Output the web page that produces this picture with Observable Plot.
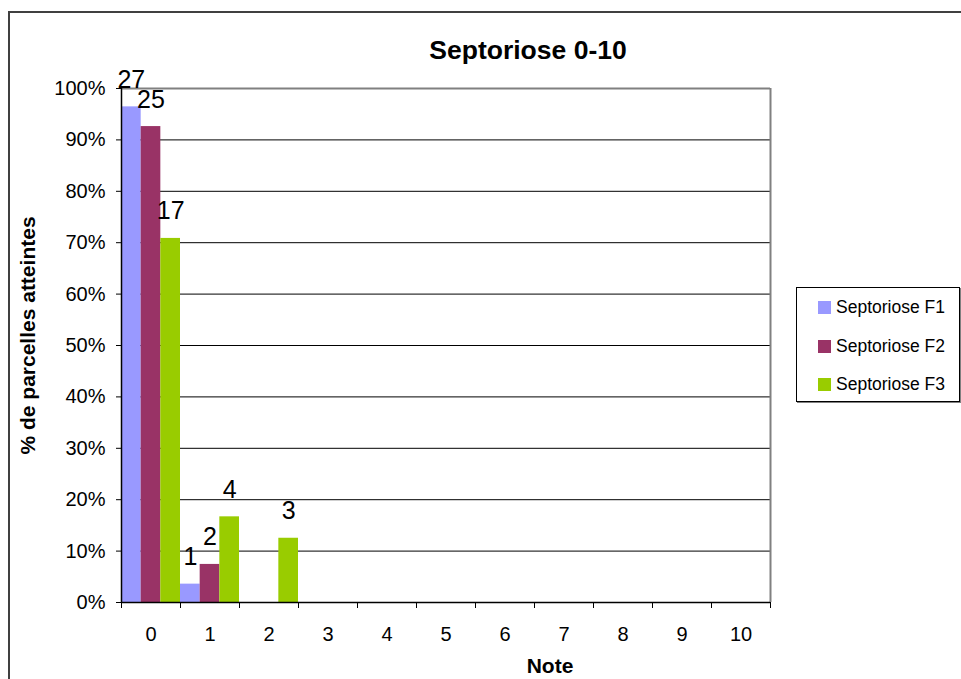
<!DOCTYPE html>
<html>
<head>
<meta charset="utf-8">
<script src="https://cdn.jsdelivr.net/npm/d3@7"></script>
<script src="https://cdn.jsdelivr.net/npm/@observablehq/plot@0.6"></script>
<style>
  html, body { margin: 0; padding: 0; background: #fff; }
  #wrap { position: relative; width: 961px; height: 679px; overflow: hidden; background: #fff; font-family: "Liberation Sans", Arial, sans-serif; }
  #border { position: absolute; left: 8px; top: 11px; width: 1100px; height: 1100px; border: 2px solid #404040; box-sizing: border-box; }
  #chart { position: absolute; left: 0; top: 0; }
  #legend { position: absolute; left: 796px; top: 287px; width: 164px; height: 115px; border: 1px solid #000; box-sizing: border-box; box-shadow: 1px 1px 0 #808080; background: #fff; }
  .item { position: absolute; left: 21px; height: 13px; display: flex; align-items: center; font-size: 17.5px; color: #000; white-space: nowrap; }
  .sw { width: 13px; height: 13px; margin-right: 5px; flex: none; }
</style>
</head>
<body>
<div id="wrap">
  <div id="border"></div>
  <div id="chart"></div>
  <div id="legend"></div>
</div>
<script>
const title = "Septoriose 0-10";
const yTitle = "% de parcelles atteintes";
const xTitle = "Note";
const notes = [0, 1, 2, 3, 4, 5, 6, 7, 8, 9, 10];
const seriesNames = ["Septoriose F1", "Septoriose F2", "Septoriose F3"];
const seriesColors = ["#9999FF", "#993366", "#99CC00"];
const countsF1 = [27, 1, 0, 0, 0, 0, 0, 0, 0, 0, 0];
const countsF2 = [25, 2, 0, 0, 0, 0, 0, 0, 0, 0, 0];
const countsF3 = [17, 4, 3, 0, 0, 0, 0, 0, 0, 0, 0];
const yTicks = [0, 0.1, 0.2, 0.3, 0.4, 0.5, 0.6, 0.7, 0.8, 0.9, 1.0];

const allCounts = [countsF1, countsF2, countsF3];
const rows = [];
allCounts.forEach((counts, i) => {
  const total = d3.sum(counts);
  counts.forEach((c, j) => {
    rows.push({note: notes[j], series: seriesNames[i], i, count: c, pct: c / total});
  });
});
const nS = seriesNames.length;
const boundaries = notes.map(n => n - 0.5).concat([notes[notes.length - 1] + 0.5]);
const font = "Liberation Sans, Arial, sans-serif";

const chart = Plot.plot({
  width: 961,
  height: 679,
  marginLeft: 121,
  marginRight: 191,
  marginTop: 88,
  marginBottom: 77,
  style: {fontFamily: font, background: "transparent", overflow: "visible"},
  x: {domain: [boundaries[0], boundaries[boundaries.length - 1]]},
  y: {domain: [0, 1]},
  color: {domain: seriesNames, range: seriesColors},
  marks: [
    Plot.gridY(yTicks.slice(1, -1), {stroke: "#000", strokeOpacity: 1, strokeWidth: 1}),
    Plot.ruleY([1], {stroke: "#808080", strokeWidth: 2}),
    Plot.ruleX([boundaries[boundaries.length - 1]], {stroke: "#808080", strokeWidth: 2}),
    Plot.rectY(rows.filter(d => d.count > 0), {
      x1: d => d.note - 0.5 + d.i / nS,
      x2: d => d.note - 0.5 + (d.i + 1) / nS,
      y1: 0,
      y2: "pct",
      fill: "series"
    }),
    Plot.ruleY([0], {stroke: "#000", strokeWidth: 1.5}),
    Plot.ruleX([boundaries[0]], {stroke: "#000", strokeWidth: 1.5}),
    Plot.axisY({ticks: yTicks, tickFormat: d3.format(".0%"), tickSize: 5, tickPadding: 11, fontSize: 20, label: null, stroke: "#000"}),
    Plot.axisX({ticks: boundaries, tickFormat: () => "", tickSize: 6, label: null, stroke: "#000"}),
    Plot.axisX({ticks: notes, tickFormat: d => String(d), tickSize: 0, tickPadding: 24, fontSize: 20, label: null}),
    Plot.text(rows.filter(d => d.count > 0), {
      x: d => d.note - 0.5 + (d.i + 0.5) / nS,
      y: "pct",
      text: d => String(d.count),
      lineAnchor: "bottom",
      dy: -19,
      fontSize: 25,
      fill: "#000"
    }),
    Plot.text([title], {frameAnchor: "top", dy: -30, dx: 82, fontSize: 26.5, fontWeight: "bold", lineAnchor: "bottom", fill: "#000"}),
    Plot.text([yTitle], {frameAnchor: "left", textAnchor: "middle", dx: -93, dy: -10, rotate: -90, fontSize: 21, fontWeight: "bold", fill: "#000"}),
    Plot.text([xTitle], {frameAnchor: "bottom", dy: 70, dx: 104, fontSize: 21, fontWeight: "bold", fill: "#000"})
  ]
});
document.getElementById("chart").appendChild(chart);

const legend = document.getElementById("legend");
const tops = [13, 52, 90];
seriesNames.forEach((name, i) => {
  const it = document.createElement("div");
  it.className = "item";
  it.style.top = tops[i] + "px";
  const sw = document.createElement("div");
  sw.className = "sw";
  sw.style.background = seriesColors[i];
  it.appendChild(sw);
  const t = document.createElement("span");
  t.textContent = name;
  it.appendChild(t);
  legend.appendChild(it);
});
</script>
</body>
</html>
